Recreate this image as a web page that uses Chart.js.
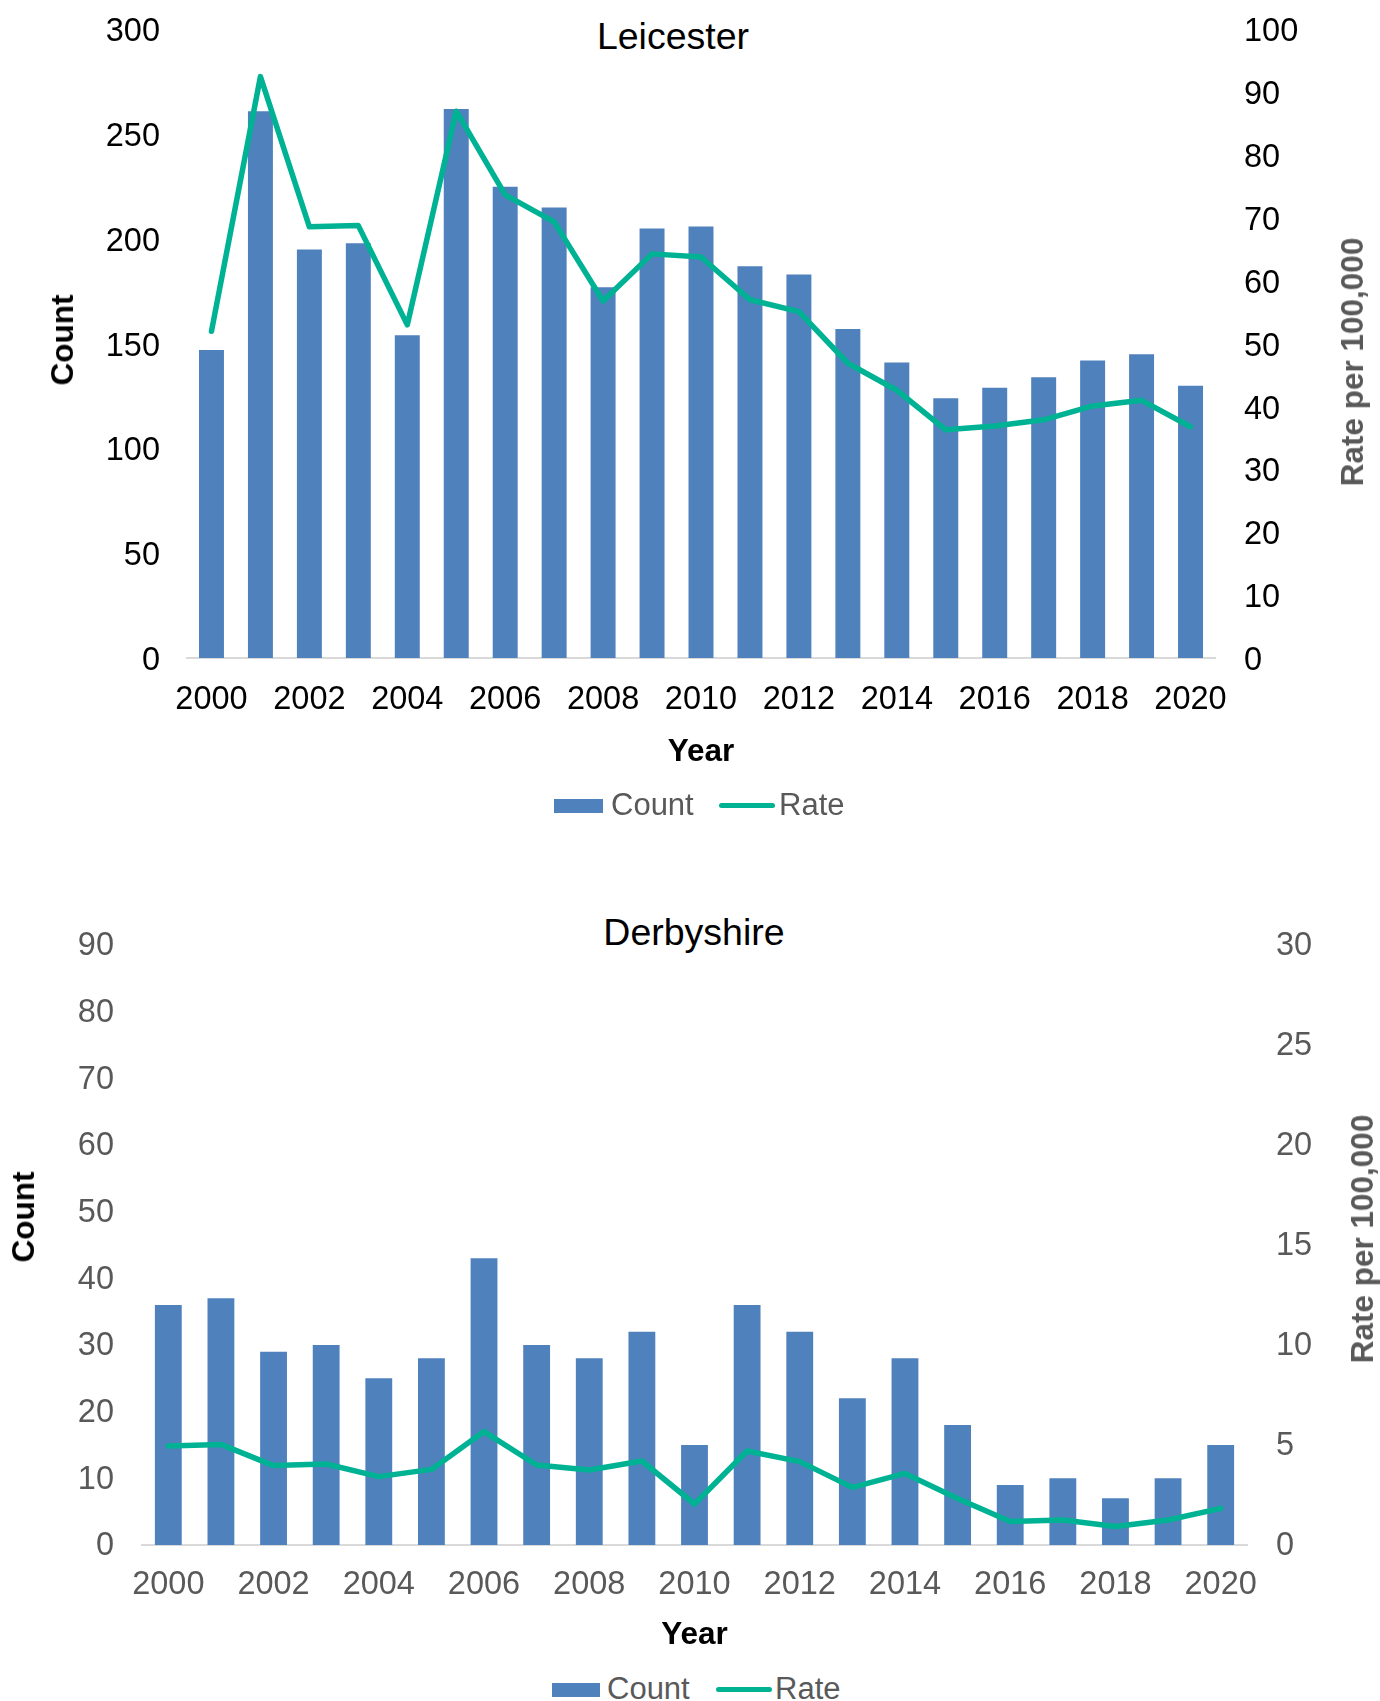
<!DOCTYPE html>
<html>
<head>
<meta charset="utf-8">
<script src="https://cdn.jsdelivr.net/npm/chart.js@4.4.0/dist/chart.umd.min.js"></script>
<style>
html,body{margin:0;padding:0;background:#fff;}
body{width:1380px;height:1701px;overflow:hidden;position:relative;font-family:"Liberation Sans",Arial,sans-serif;}
canvas{position:absolute;left:0;}
.title{position:absolute;width:600px;text-align:center;font-size:37.5px;line-height:38px;color:#000;white-space:nowrap;}
.vtitle{position:absolute;font-weight:bold;font-size:31.5px;line-height:32px;white-space:nowrap;transform:translate(-50%,-50%) rotate(-90deg);}
.lbox{position:absolute;background:#4F81BD;}
.lline{position:absolute;background:#00B294;border-radius:3px;}
.ltext{position:absolute;font-size:31px;line-height:31px;color:#595959;white-space:nowrap;}
</style>
</head>
<body>
<div class="title" style="left:373px;top:17px;">Leicester</div>
<canvas id="c1" width="1380" height="790" style="top:0px;"></canvas>
<div class="vtitle" style="left:62px;top:340px;color:#000;">Count</div>
<div class="vtitle" style="left:1352px;top:362px;color:#595959;">Rate per 100,000</div>
<div class="lbox" style="left:554px;top:799px;width:49px;height:14px;"></div>
<div class="ltext" style="left:611px;top:789px;">Count</div>
<div class="lline" style="left:719px;top:803px;width:56px;height:5px;"></div>
<div class="ltext" style="left:779px;top:789px;">Rate</div>

<div class="title" style="left:394px;top:913px;">Derbyshire</div>
<canvas id="c2" width="1380" height="800" style="top:860px;"></canvas>
<div class="vtitle" style="left:23px;top:1217px;color:#000;">Count</div>
<div class="vtitle" style="left:1362px;top:1239px;color:#595959;">Rate per 100,000</div>
<div class="lbox" style="left:552px;top:1683px;width:48px;height:14px;"></div>
<div class="ltext" style="left:607px;top:1673px;">Count</div>
<div class="lline" style="left:716px;top:1687px;width:56px;height:5px;"></div>
<div class="ltext" style="left:775px;top:1673px;">Rate</div>

<script>
// ---- Data ----
const years = ['2000','2001','2002','2003','2004','2005','2006','2007','2008','2009','2010',
               '2011','2012','2013','2014','2015','2016','2017','2018','2019','2020'];
const leicesterCount = [147,261,195,198,154,262,225,215,177,205,206,187,183,157,141,124,129,134,142,145,130];
const leicesterRate  = [52,92.5,68.6,68.8,53,87,73.7,69.4,56.8,64.3,63.8,57,55.1,46.9,42.6,36.3,36.9,37.9,40.1,41,36.8];
const derbyCount = [36,37,29,30,25,28,43,30,28,32,15,36,32,22,28,18,9,10,7,10,15];
const derbyRate  = [4.95,5.03,3.97,4.05,3.42,3.78,5.67,4.0,3.75,4.2,2.05,4.7,4.17,2.88,3.58,2.33,1.17,1.25,0.92,1.25,1.83];
const leicesterCountAxis = {min:0, max:300, step:50};
const leicesterRateAxis  = {min:0, max:100, step:10};
const derbyCountAxis = {min:0, max:90, step:10};
const derbyRateAxis  = {min:0, max:30, step:5};
const seriesNames = ['Count','Rate'];

Chart.defaults.font.family = '"Liberation Sans", Arial, sans-serif';

function build(id, count, rate, cAx, rAx, g) {
  return new Chart(document.getElementById(id), {
    data: {
      labels: years,
      datasets: [
        {type:'line', label:seriesNames[1], data:rate, yAxisID:'y1', order:0,
         borderColor:'#00B294', backgroundColor:'#00B294', borderWidth:5.5,
         pointRadius:0, tension:0, borderCapStyle:'round', borderJoinStyle:'round'},
        {type:'bar', label:seriesNames[0], data:count, yAxisID:'y', order:1,
         backgroundColor:'#4F81BD', borderWidth:0,
         categoryPercentage:1, barPercentage:0.51}
      ]
    },
    options: {
      responsive:false, animation:false, devicePixelRatio:1,
      layout:{padding:{top:g.top, left:0, right:0, bottom:0}},
      plugins:{legend:{display:false}, tooltip:{enabled:false}, title:{display:false}},
      scales:{
        x:{
          type:'category', offset:true,
          grid:{display:false, drawTicks:false},
          border:{display:true, color:'#D9D9D9', width:2},
          ticks:{autoSkip:false, maxRotation:0, minRotation:0, padding:g.xPad,
                 color:g.tickColor, font:{size:32.5}},
          title:{display:true, text:'Year', color:'#000', font:{size:31.5, weight:'bold'},
                 padding:{top:0, bottom:g.yearPad}},
          afterFit:function(s){ s.height = g.xH; }
        },
        y:{
          position:'left', min:cAx.min, max:cAx.max,
          grid:{display:false, drawTicks:false}, border:{display:false},
          ticks:{stepSize:cAx.step, padding:g.yPad, labelOffset:g.yOff, color:g.tickColor, font:{size:32.5}},
          afterFit:function(s){ s.width = g.yW; s.paddingTop = 0; s.paddingBottom = 0; }
        },
        y1:{
          position:'right', min:rAx.min, max:rAx.max,
          grid:{display:false, drawTicks:false}, border:{display:false},
          ticks:{stepSize:rAx.step, padding:g.y1Pad, labelOffset:g.yOff, color:g.tickColor, font:{size:32.5}},
          afterFit:function(s){ s.width = g.y1W; s.paddingTop = 0; s.paddingBottom = 0; }
        }
      }
    }
  });
}

// x tick labels: every second year shown
const xTickFilter = function(v, i){ return i % 2 === 0 ? years[i] : ''; };

const c1 = build('c1', leicesterCount, leicesterRate, leicesterCountAxis, leicesterRateAxis,
  {top:29.5, xPad:22.2, yearPad:19.1, xH:132, yPad:27, yOff:3, yW:187, y1Pad:29, y1W:165, tickColor:'#000'});
const c2 = build('c2', derbyCount, derbyRate, derbyCountAxis, derbyRateAxis,
  {top:85, xPad:20.7, yearPad:6.1, xH:115, yPad:28, yOff:1.5, yW:142, y1Pad:29, y1W:133, tickColor:'#595959'});
[c1, c2].forEach(function(c){ c.options.scales.x.ticks.callback = xTickFilter; c.update(); });
</script>
</body>
</html>
